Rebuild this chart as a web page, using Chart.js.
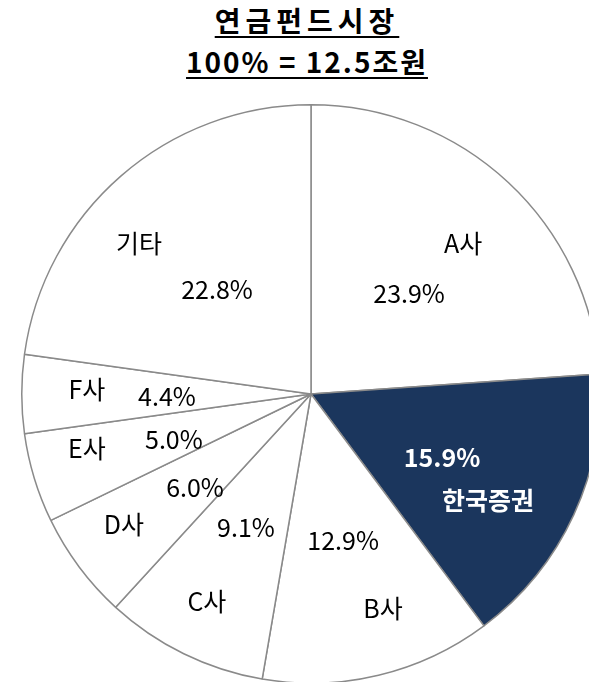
<!DOCTYPE html>
<html>
<head>
<meta charset="utf-8">
<script src="https://cdn.jsdelivr.net/npm/chart.js@4.4.1/dist/chart.umd.min.js"></script>
<style>
  html, body { margin: 0; padding: 0; background: #fff; overflow: hidden; width: 589px; height: 682px; }
  .title { position: absolute; left: 0; width: 614px; text-align: center; white-space: pre; font-family: "Noto Sans CJK KR", "Noto Sans", sans-serif; font-weight: bold; font-size: 28px; line-height: 28px; color: #000; letter-spacing: 2px; text-decoration: underline; text-decoration-thickness: 2px; text-underline-offset: 4px; }
  #t1 { top: 6px; letter-spacing: 5px; }
  #t2 { top: 47px; }
  #pie { position: absolute; left: 11px; top: 94px; }
</style>
</head>
<body>
<div class="title" id="t1">연금펀드시장</div>
<div class="title" id="t2">100% = 12.5조원</div>
<canvas id="pie" width="600" height="600"></canvas>
<script>
document.addEventListener('DOMContentLoaded', () => {

    // --- DADOS ---
    const categories = ['A사', '한국증권', 'B사', 'C사', 'D사', 'E사', 'F사', '기타'];
    const shares = [23.9, 15.9, 12.9, 9.1, 6.0, 5.0, 4.4, 22.8];
    const highlight = '한국증권';

    // label placement relative to pie centre, in fractions of the radius: [name, value]
    const labelSpots = [
        [[0.526, -0.522], [0.339, -0.349]],
        [[0.612, 0.367], [0.453, 0.218]],
        [[0.249, 0.740], [0.111, 0.505]],
        [[-0.360, 0.716], [-0.225, 0.460]],
        [[-0.647, 0.450], [-0.401, 0.322]],
        [[-0.775, 0.187], [-0.474, 0.159]],
        [[-0.775, -0.014], [-0.498, 0.010]],
        [[-0.595, -0.522], [-0.325, -0.363]]
    ];

    const NAVY = '#1b365d';

    const labelPlugin = {
        id: 'sliceLabels',
        afterDatasetsDraw(chart) {
            const ctx = chart.ctx;
            const arcs = chart.getDatasetMeta(0).data;
            ctx.save();
            ctx.textAlign = 'center';
            ctx.textBaseline = 'middle';
            arcs.forEach((arc, i) => {
                const { x, y, outerRadius } = arc.getProps(['x', 'y', 'outerRadius'], true);
                const isHi = categories[i] === highlight;
                ctx.fillStyle = isHi ? '#ffffff' : '#000000';
                ctx.font = (isHi ? 'bold ' : '') + '25px "Noto Sans CJK KR", "Noto Sans", sans-serif';
                const [nameSpot, valSpot] = labelSpots[i];
                ctx.fillText(categories[i], x + nameSpot[0] * outerRadius, y + nameSpot[1] * outerRadius);
                ctx.fillText(shares[i].toFixed(1) + '%', x + valSpot[0] * outerRadius, y + valSpot[1] * outerRadius);
            });
            ctx.restore();
        }
    };

    new Chart(document.getElementById('pie').getContext('2d'), {
        type: 'pie',
        data: {
            labels: categories,
            datasets: [{
                data: shares,
                backgroundColor: categories.map(c => c === highlight ? NAVY : '#ffffff'),
                borderColor: '#8a8a8a',
                borderWidth: 1.5,
                borderAlign: 'center'
            }]
        },
        options: {
            responsive: false,
            animation: false,
            layout: { padding: 10 },
            plugins: {
                legend: { display: false },
                tooltip: { enabled: false }
            }
        },
        plugins: [labelPlugin]
    });

});
</script>
</body>
</html>
